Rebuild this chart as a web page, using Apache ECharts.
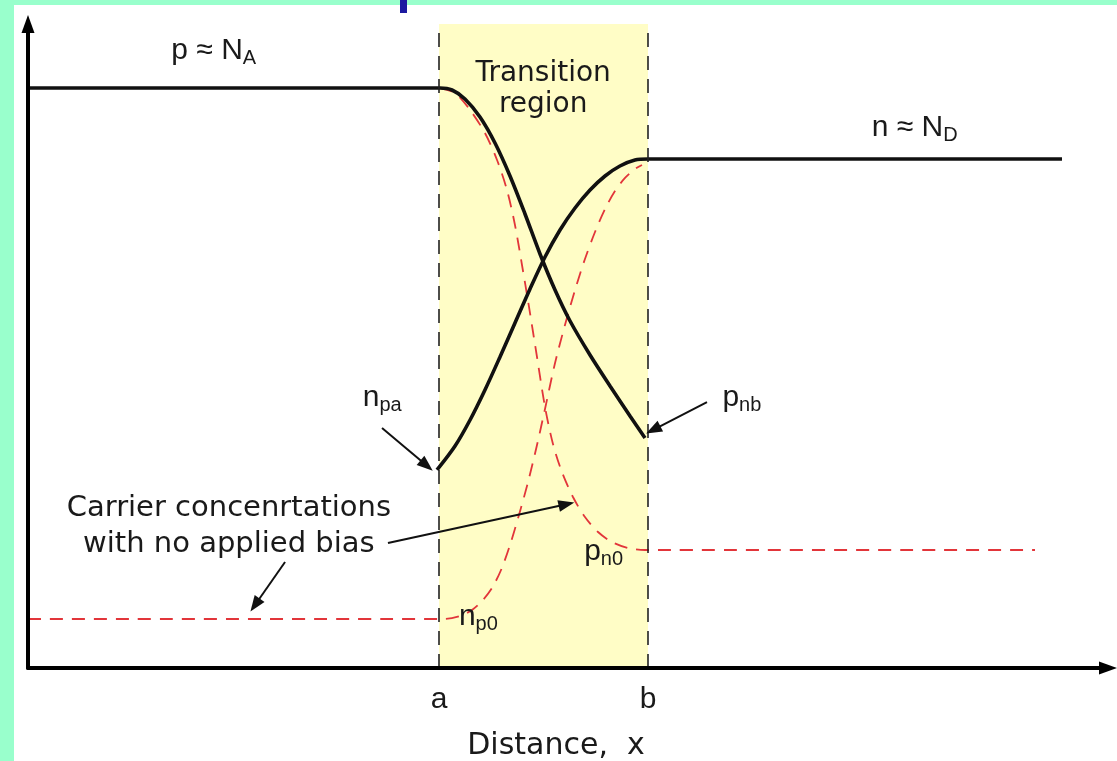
<!DOCTYPE html>
<html>
<head>
<meta charset="utf-8">
<script src="https://cdn.jsdelivr.net/npm/echarts@6/dist/echarts.min.js"></script>
<style>
html, body { margin:0; padding:0; width:1117px; height:761px; overflow:hidden; background:#99ffcc; }
#chart { position:absolute; left:14px; top:5px; width:1103px; height:756px; background:#fff; }
#mark { position:absolute; left:400px; top:0; width:7px; height:13px; background:#1c1aa0; z-index:2; }
</style>
</head>
<body>
<div id="mark"></div>
<div id="chart"></div>
<script>
// junction edges (x in arbitrary distance units 0..100)
var edgeA = 38.06, edgeB = 57.41;
var edgeNames = ['a', 'b'];

// carrier concentrations under bias (black) - [x, y]
var pCurve = [[0, 90.06], [38.15, 90.06], [39.26, 89.75], [40.46, 88.35], [41.85, 85.56], [43.24, 81.52],
    [44.63, 76.4], [46.02, 70.5], [47.41, 64.29], [48.8, 58.7], [50.19, 53.88], [52.04, 48.6],
    [53.89, 43.79], [55.74, 39.13], [57.13, 35.71]];
var nCurve = [[37.87, 30.75], [39.54, 34.47], [40.93, 38.51], [42.31, 43.17], [43.7, 48.29], [45.09, 53.57],
    [46.48, 58.85], [47.87, 63.82], [49.26, 68.01], [50.65, 71.43], [52.04, 74.22], [53.43, 76.4],
    [54.81, 77.95], [56.2, 78.88], [57.41, 79.04], [95.74, 79.04]];

// no applied bias (red dashed)
var pn0Curve = [[38.15, 90.06], [39.54, 89.29], [40.93, 86.65], [42.31, 83.07], [43.43, 78.88], [44.35, 74.22],
    [45.09, 68.79], [45.74, 62.58], [46.39, 56.06], [47.13, 48.29], [47.87, 40.53], [48.61, 34.78],
    [49.44, 30.43], [50.46, 26.55], [51.57, 23.45], [52.78, 21.12], [54.07, 19.57], [55.56, 18.63],
    [57.13, 18.32], [93.24, 18.32]];
var np0Curve = [[0, 7.61], [38.61, 7.61], [40.0, 8.07], [41.11, 9.01], [42.04, 10.4], [42.96, 12.42],
    [43.8, 15.22], [44.63, 19.1], [45.46, 23.76], [46.3, 28.88], [47.13, 34.63], [47.87, 40.22],
    [48.8, 47.36], [49.72, 53.26], [50.65, 58.7], [51.57, 63.51], [52.5, 67.7], [53.43, 71.27],
    [54.35, 74.07], [55.28, 76.09], [56.2, 77.48], [56.85, 78.11]];

// text annotations
var labelTexts = ['{m|p ≈ N}{s|A}', '{t|Transition}\n{t|region}', '{m|n ≈ N}{s|D}', '{m|n}{s|pa}',
    '{m|p}{s|nb}', '{c|Carrier concenrtations}\n{c|with no applied bias}', '{m|p}{s|n0}', '{m|n}{s|p0}'];
var labelSpots = [[17.2, 95.8], [47.7, 89.8], [82.1, 83.85], [32.8, 41.9],
    [66.1, 41.9], [18.6, 21.96], [53.3, 18.0], [41.7, 7.9]];

// pointer arrows: from, to, curveness
var arrowFrom = [[32.78, 37.27], [62.87, 41.30], [33.33, 19.41], [23.80, 16.46]];
var arrowTo = [[36.91, 31.44], [57.89, 36.99], [49.86, 25.42], [21.02, 9.78]];
var arrowBend = [0, 0, -0.12, -0.3];

var chart = echarts.init(document.getElementById('chart'));

var ink = '#1a1a1a';
var sansText = {fontFamily: 'Liberation Sans', fontSize: 30, color: ink, lineHeight: 32};
var subText = {fontFamily: 'Liberation Sans', fontSize: 20, color: ink, lineHeight: 20, padding: [15, 0, 0, 0]};

var labelData = [];
for (var i = 0; i < labelSpots.length; i++) {
    labelData.push({value: labelSpots[i], label: {formatter: labelTexts[i]}});
}
var arrowData = [];
for (var j = 0; j < arrowFrom.length; j++) {
    arrowData.push([
        {coord: arrowFrom[j], lineStyle: {curveness: arrowBend[j]}},
        {coord: arrowTo[j], lineStyle: {curveness: arrowBend[j]}}
    ]);
}

var redLine = {color: '#e2353a', width: 1.8, type: [13, 9]};
var blackLine = {color: '#111', width: 3.6};

option = {
    animation: false,
    grid: {left: 14, right: 9, top: 19, bottom: 93, outerBoundsMode: 'none', containLabel: false},
    xAxis: {
        type: 'value', min: 0, max: 100, z: 10,
        axisLine: {show: true, lineStyle: {color: '#000', width: 4}, symbol: ['none', 'triangle'], symbolSize: [13, 18]},
        axisTick: {show: false},
        splitLine: {show: false},
        axisLabel: {
            customValues: [edgeA, edgeB], margin: 17,
            fontFamily: 'Liberation Sans', fontSize: 30, color: ink,
            formatter: function (v) { return Math.abs(v - edgeA) < 0.5 ? edgeNames[0] : edgeNames[1]; }
        },
        name: 'Distance,  x', nameLocation: 'middle', nameGap: 63,
        nameTextStyle: {fontFamily: 'DejaVu Sans', fontSize: 30, color: ink, padding: [0, 24, 0, 0]}
    },
    yAxis: {
        type: 'value', min: 0, max: 100, z: 10,
        axisLine: {show: true, lineStyle: {color: '#000', width: 4}, symbol: ['none', 'triangle'], symbolSize: [13, 18]},
        axisTick: {show: false}, axisLabel: {show: false}, splitLine: {show: false}
    },
    series: [
        {
            type: 'line', data: [], z: 1, silent: true,
            markArea: {silent: true, itemStyle: {color: '#fffdc6'}, data: [[{xAxis: edgeA}, {xAxis: edgeB}]]},
            markLine: {silent: true, symbol: ['none', 'none'], label: {show: false},
                lineStyle: {color: '#222', width: 1.6, type: [14, 9]},
                data: [{xAxis: edgeA}, {xAxis: edgeB}]}
        },
        {type: 'line', data: pn0Curve, z: 3, smooth: 0.3, showSymbol: false, lineStyle: redLine},
        {type: 'line', data: np0Curve, z: 3, smooth: 0.3, showSymbol: false, lineStyle: redLine},
        {type: 'line', data: pCurve, z: 4, smooth: 0.3, showSymbol: false, lineStyle: blackLine},
        {type: 'line', data: nCurve, z: 4, smooth: 0.3, showSymbol: false, lineStyle: blackLine},
        {
            type: 'line', data: [], z: 6, silent: true,
            markLine: {silent: true, symbol: ['none', 'triangle'], symbolSize: [12, 16], label: {show: false},
                lineStyle: {color: '#111', width: 2, type: 'solid'}, data: arrowData}
        },
        {
            type: 'scatter', data: labelData, z: 8, symbolSize: 0, silent: true,
            itemStyle: {opacity: 1},
            label: {
                show: true, position: 'inside', align: 'center', color: ink, opacity: 1,
                rich: {
                    m: sansText, s: subText,
                    t: {fontFamily: 'DejaVu Sans', fontSize: 28, color: ink, lineHeight: 31},
                    c: {fontFamily: 'DejaVu Sans', fontSize: 29, color: ink, lineHeight: 36}
                }
            }
        }
    ]
};
chart.setOption(option);
</script>
</body>
</html>
